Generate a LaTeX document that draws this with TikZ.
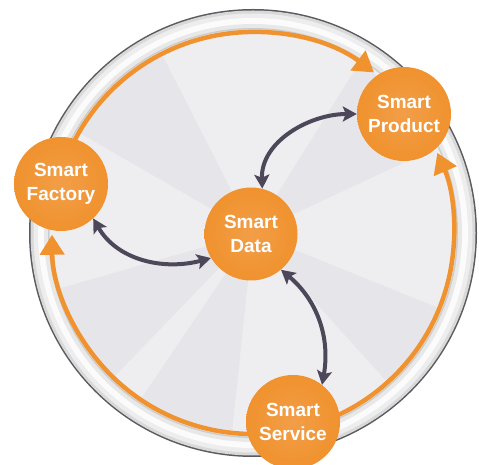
\documentclass[tikz,border=0pt]{standalone}
\usepackage{fontspec}
\setmainfont{Liberation Sans}
\usetikzlibrary{arrows.meta,shapes.geometric}
\definecolor{smorange}{HTML}{F0922E}
\definecolor{smorangein}{HTML}{F29E48}
\definecolor{smdark}{HTML}{4D475A}
\definecolor{ringout}{HTML}{5A5A60}
\definecolor{discbg}{HTML}{EEEEF1}
\definecolor{wedgedark}{HTML}{E6E6EA}
\tikzset{
  smnode/.style={circle, inner sep=0pt, minimum size=94pt, shading=radial,
    inner color=smorangein, outer color=smorange, draw=none,
    text=white, font=\fontsize{19}{23.5}\selectfont\bfseries, align=center},
  cyclearc/.style={draw=smorange, line width=4.5pt,
    -{Triangle[length=20pt,width=24pt]}},
  dataflow/.style={draw=smdark, line width=4pt,
    {Stealth[length=14pt,width=15pt,inset=3pt]}-{Stealth[length=14pt,width=15pt,inset=3pt]}},
  wedge/.style={fill=wedgedark}
}
\begin{document}
\begin{tikzpicture}[x=1pt,y=1pt]
\useasboundingbox (0,0) rectangle (479,465);
\fill[white] (0,0) rectangle (479,465);
\coordinate (C) at (253,232);
% silver ring
\fill[ringout] (C) circle[radius=224];
\fill[gray!30] (C) circle[radius=222.5];
\fill[gray!14] (C) circle[radius=219.5];
\fill[gray!3] (C) circle[radius=215];
\fill[gray!18] (C) circle[radius=209];
\fill[gray!40] (C) circle[radius=205];
\fill[discbg] (C) circle[radius=203.5];
% subtle wedges
\foreach \a/\b in {117/150, 25/58, -22/-48, -96/-124, 196/226} {
  \fill[wedge] (C) -- ++(\a:200) arc[start angle=\a, end angle=\b, radius=200] -- cycle;
}
% orange cycle
\draw[cyclearc] ([shift={(160:201)}]C) arc[start angle=160, end angle=53, radius=201];
\draw[cyclearc] ([shift={(-72:201)}]C) arc[start angle=-72, end angle=23.5, radius=201];
\draw[cyclearc] ([shift={(285:201)}]C) arc[start angle=285, end angle=180.5, radius=201];
% nodes
\node[smnode, minimum size=93pt] (data) at (251,231) {Smart\\Data};
\node[smnode] (product) at (404,351) {Smart\\Product};
\node[smnode] (factory) at (61,281) {Smart\\Factory};
\node[smnode] (service) at (293,43) {Smart\\Service};
% data flows
\draw[dataflow] (data.76) to[out=92, in=180] (product.180);
\draw[dataflow] (factory.-47) to[out=-60, in=195] (data.211);
\draw[dataflow] (data.-50) to[out=-40, in=80] (service.52);
\end{tikzpicture}
\end{document}
